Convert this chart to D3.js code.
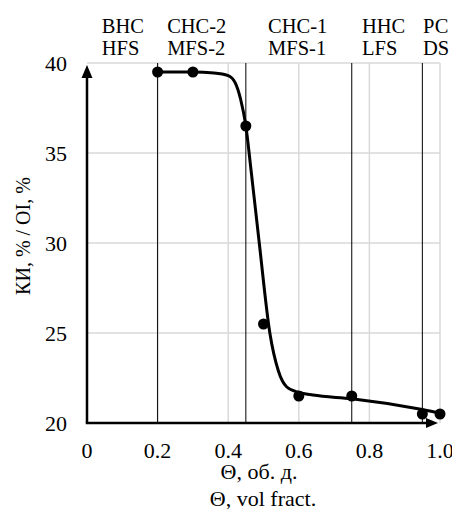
<!DOCTYPE html>
<html>
<head>
<meta charset="utf-8">
<script src="https://cdn.jsdelivr.net/npm/d3@7"></script>
<style>
  body { margin: 0; background: #fff; }
  text { font-family: "Liberation Serif", "Times New Roman", serif; fill: #000; }
</style>
</head>
<body>
<div id="chart"></div>
<script>
// measured points
var pointX = [0.2, 0.3, 0.45, 0.5, 0.6, 0.75, 0.95, 1.0];
var pointY = [39.5, 39.5, 36.5, 25.5, 21.5, 21.5, 20.5, 20.5];

// fitted curve
var curveX = [0.2, 0.3, 0.36, 0.4, 0.42, 0.435, 0.45, 0.465, 0.488, 0.518, 0.542, 0.566, 0.6, 0.64, 0.75, 0.95, 1.0];
var curveY = [39.5, 39.5, 39.45, 39.3, 38.9, 38.0, 36.5, 34.0, 30.0, 25.0, 22.9, 22.0, 21.7, 21.55, 21.35, 20.75, 20.55];

// region borders and labels
var borders = [0.2, 0.45, 0.75, 0.95];
var regionRu = ["ВНС", "СНС-2", "СНС-1", "ННС", "РС"];
var regionEn = ["HFS", "MFS-2", "MFS-1", "LFS", "DS"];
var regionStart = [0.042, 0.227, 0.513, 0.779, 0.952];

var xTicks = [0, 0.2, 0.4, 0.6, 0.8, 1.0];
var yTicks = [20, 25, 30, 35, 40];

var svgWidth = 452;
var svgHeight = 509;

var svg = d3.select("#chart")
  .append("svg")
  .attr("width", svgWidth)
  .attr("height", svgHeight);

var x = d3.scaleLinear().domain([0, 1]).range([87, 440]);
var y = d3.scaleLinear().domain([20, 40]).range([423, 63]);

// light grid
svg.append("g")
  .selectAll("line")
  .data(xTicks.slice(1))
  .enter()
  .append("line")
  .attr("x1", d => x(d)).attr("x2", d => x(d))
  .attr("y1", y(40)).attr("y2", y(20))
  .attr("stroke", "#d9d9d9")
  .attr("stroke-width", 1.5);

svg.append("g")
  .selectAll("line")
  .data(yTicks.slice(1))
  .enter()
  .append("line")
  .attr("x1", x(0)).attr("x2", x(1))
  .attr("y1", d => y(d)).attr("y2", d => y(d))
  .attr("stroke", "#d9d9d9")
  .attr("stroke-width", 1.5);

// region borders
svg.append("g")
  .selectAll("line")
  .data(borders)
  .enter()
  .append("line")
  .attr("x1", d => x(d)).attr("x2", d => x(d))
  .attr("y1", y(40)).attr("y2", y(20))
  .attr("stroke", "#000")
  .attr("stroke-width", 1);

// axes with arrows
svg.append("line")
  .attr("x1", x(0)).attr("x2", x(0))
  .attr("y1", y(20)).attr("y2", y(40) + 8)
  .attr("stroke", "#000").attr("stroke-width", 2.5);
svg.append("path")
  .attr("d", `M${x(0)},${y(40) + 2} l-5.5,13 l11,0 Z`)
  .attr("fill", "#000");

svg.append("line")
  .attr("x1", x(0) - 1.25).attr("x2", x(1) - 10)
  .attr("y1", y(20)).attr("y2", y(20))
  .attr("stroke", "#000").attr("stroke-width", 2.5);
svg.append("path")
  .attr("d", `M${x(1) - 2},${y(20)} l-12,-5 l0,10 Z`)
  .attr("fill", "#000");

// tick labels
svg.append("g")
  .selectAll("text")
  .data(xTicks)
  .enter()
  .append("text")
  .attr("x", d => x(d))
  .attr("y", 458)
  .attr("text-anchor", "middle")
  .attr("font-size", "22px")
  .text(d => d === 0 ? "0" : d3.format(".1f")(d));

svg.append("g")
  .selectAll("text")
  .data(yTicks)
  .enter()
  .append("text")
  .attr("x", 67)
  .attr("y", d => y(d))
  .attr("dy", "0.35em")
  .attr("text-anchor", "end")
  .attr("font-size", "22px")
  .text(d => d);

// axis titles
svg.append("text")
  .attr("x", 259).attr("y", 479)
  .attr("text-anchor", "middle")
  .attr("font-size", "22px")
  .text("Θ, об. д.");
svg.append("text")
  .attr("x", 263).attr("y", 506)
  .attr("text-anchor", "middle")
  .attr("font-size", "22px")
  .text("Θ, vol fract.");

svg.append("text")
  .attr("transform", "translate(30, 236) rotate(-90)")
  .attr("text-anchor", "middle")
  .attr("font-size", "20px")
  .text("КИ, % / OI, %");

// region labels
regionRu.forEach((t, i) => {
  svg.append("text")
    .attr("x", x(regionStart[i])).attr("y", 33)
    .attr("font-size", "20.5px")
    .text(t);
  svg.append("text")
    .attr("x", x(regionStart[i])).attr("y", 55)
    .attr("font-size", "20.5px")
    .text(regionEn[i]);
});

// fitted curve
var curveData = curveX.map((d, i) => [d, curveY[i]]);
svg.append("path")
  .datum(curveData)
  .attr("fill", "none")
  .attr("stroke", "#000")
  .attr("stroke-width", 3)
  .attr("d", d3.line()
    .x(d => x(d[0]))
    .y(d => y(d[1]))
    .curve(d3.curveMonotoneX));

// points
svg.append("g")
  .selectAll("circle")
  .data(pointX.map((d, i) => [d, pointY[i]]))
  .enter()
  .append("circle")
  .attr("cx", d => x(d[0]))
  .attr("cy", d => y(d[1]))
  .attr("r", 5.5)
  .attr("fill", "#000");
</script>
</body>
</html>
